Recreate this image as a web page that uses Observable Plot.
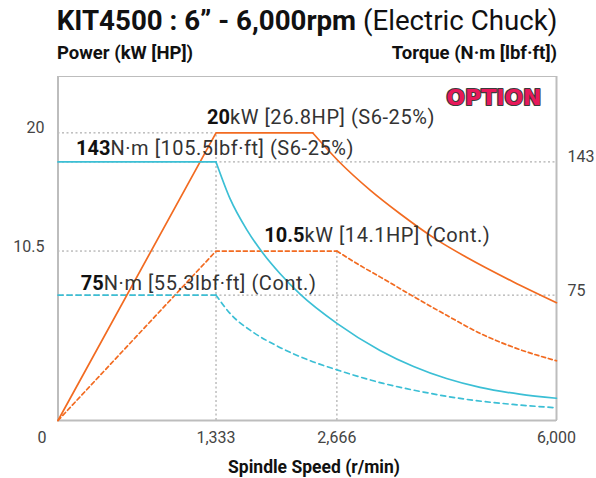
<!DOCTYPE html>
<html><head><meta charset="utf-8">
<script src="https://cdn.jsdelivr.net/npm/d3@7"></script>
<script src="https://cdn.jsdelivr.net/npm/@observablehq/plot@0.6"></script>
<style>
body{margin:0;background:#fff;font-family:Roboto,"Noto Sans",sans-serif;}
#wrap{width:596px;height:478px;overflow:hidden;}
#title{height:38px;line-height:38px;font-size:27.7px;color:#111;white-space:nowrap;text-align:center;padding-left:18px;padding-top:2px;box-sizing:border-box;}
#title b{font-weight:700}
#axes{height:26px;position:relative;font-size:18.5px;font-weight:700;color:#111;}
#axes .l{position:absolute;left:57px;bottom:0px}
#axes .r{position:absolute;right:39px;bottom:0px}
svg{display:block}
</style></head><body><div id="wrap">
<div id="title"><b>KIT4500 : 6” - 6,000rpm</b> (Electric Chuck)</div>
<div id="axes"><span class="l">Power (kW [HP])</span><span class="r">Torque (N·m [lbf·ft])</span></div>
<div id="chart"></div>
</div>
<script>
// ---- data ----
const speedTicks = [1333, 2666, 6000];
const powerTicks = [10.5, 20];
const torqueTicks = [75, 143];

const powerS6Rpm = [0, 1333, 2400, 2715, 3170, 3625, 4155, 4640, 5340, 6000];
const powerS6Kw  = [0, 20, 20, 17.6, 15.4, 13.5, 11.5, 10.1, 8.6, 7.3];
const powerContRpm = [0, 1333, 2666, 3020, 3320, 3780, 4340, 4840, 5440, 6000];
const powerContKw  = [0, 10.5, 10.5, 9.6, 8.9, 7.8, 6.5, 5.4, 4.4, 3.7];
const torqueS6Rpm = [0, 1333, 1490, 1675, 1855, 2040, 2260, 2666, 3320, 3830, 4330, 4840, 5440, 6000];
const torqueS6Nm  = [143, 143, 124, 108.2, 96.1, 85.9, 75.5, 58.1, 41.9, 32.3, 25.1, 19.8, 15.75, 13.3];
const torqueContRpm = [0, 1333, 1490, 1745, 2005, 2370, 2666, 3370, 3980, 4585, 5340, 6000];
const torqueContNm  = [75, 75, 63.9, 52.7, 44.6, 35.8, 30.3, 22.2, 17.0, 12.9, 9.6, 7.6];

const labelBold = ["20", "143", "10.5", "75"];
const labelRest = ["kW [26.8HP] (S6-25%)", "N·m [105.5lbf·ft] (S6-25%)", "kW [14.1HP] (Cont.)", "N·m [55.3lbf·ft] (Cont.)"];

// ---- layout (schematic, piecewise axes) ----
const W = 596, H = 414, mt = 12, mb = 58, ml = 57, mr = 40;
const x0 = ml + 0.5, x1 = W - mr, yB = H - mb, yT = mt;
const xDomain = [0, 1333, 2666, 6000];
const xRange = [0, 0.317, 0.5595, 1].map(f => x0 + (x1 - x0) * f);
const yDomain = [0, 10.5, 20, 24.5];
const yRange = [0, 0.4926, 0.8361, 1].map(f => yB - (yB - yT) * f);
const yPix = d3.scaleLinear(yDomain, yRange);
const tPix = d3.scaleLinear([0, 75, 143], [0, 0.3645, 0.7517].map(f => yB - (yB - yT) * f));
const tY = t => yPix.invert(tPix(t));

const ORANGE = "#f26b21", CYAN = "#3bbfd5";
function series(rpm, vals, conv, cornerIdx) {
  const pts = rpm.map((r, i) => ({rpm: r, v: conv(vals[i])}));
  return {lin: pts.slice(0, cornerIdx + 1), cur: pts.slice(cornerIdx)};
}
const id = d => d;
const pS6 = series(powerS6Rpm, powerS6Kw, id, 2);
const pC = series(powerContRpm, powerContKw, id, 2);
const tS6 = series(torqueS6Rpm, torqueS6Nm, tY, 1);
const tC = series(torqueContRpm, torqueContNm, tY, 1);

function lineMarks(s, color, dash) {
  const o = {x: "rpm", y: "v", stroke: color, strokeWidth: 1.7, strokeDasharray: dash};
  return [Plot.line(s.lin, {...o, curve: "linear"}), Plot.line(s.cur, {...o, curve: "monotone-x"})];
}
const grid = {stroke: "#9a9a9a", strokeDasharray: "2,2.5", strokeWidth: 1};
const tickFmt = d3.format(",");
const REST_FILL = "#333333";

function annot(i, xv, yv, dx, dy) {
  const base = {x: xv, y: yv, dy, dx, lineAnchor: "bottom", fontSize: 20, fontFamily: "Roboto, sans-serif", text: d => d};
  return [
    Plot.text([labelBold[i]], {...base, textAnchor: "end", fontWeight: 700, fill: "#111"}),
    Plot.text([labelRest[i]], {...base, textAnchor: "start", fill: REST_FILL})
  ];
}

const chart = Plot.plot({
  width: W, height: H, marginTop: mt, marginBottom: mb, marginLeft: ml, marginRight: mr,
  style: {fontFamily: "Roboto, sans-serif", fontSize: "16px", color: "#444", background: "#fff", overflow: "visible"},
  x: {type: "linear", domain: xDomain, range: xRange},
  y: {type: "linear", domain: yDomain, range: yRange},
  marks: [
    Plot.ruleY(powerTicks, {...grid, x1: xDomain[0], x2: speedTicks[0]}),
    Plot.ruleY(torqueTicks.map(tY), {...grid, x1: xDomain[0], x2: speedTicks[2]}),
    Plot.ruleX([speedTicks[0]], {...grid, y1: 0, y2: powerTicks[1]}),
    Plot.ruleX([speedTicks[1]], {...grid, y1: 0, y2: powerTicks[0]}),
    Plot.frame({stroke: "#bdbdbd", strokeWidth: 1}),
    Plot.ruleX([0, 6000], {stroke: "#bdbdbd", strokeWidth: 2}),
    Plot.ruleY([0], {stroke: "#bdbdbd", strokeWidth: 2}),
    ...lineMarks(pC, ORANGE, "4,3"),
    ...lineMarks(tC, CYAN, "5,4"),
    ...lineMarks(pS6, ORANGE, null),
    ...lineMarks(tS6, CYAN, null),
    Plot.axisY(powerTicks, {anchor: "left", tickSize: 0, tickPadding: 13, dy: -4.6, fontSize: 16, label: null, tickFormat: d => String(d)}),
    Plot.axisY(torqueTicks.map(tY), {anchor: "right", tickSize: 0, tickPadding: 11, dy: -4.6, fontSize: 16, label: null,
      tickFormat: d => String(torqueTicks.find(t => Math.abs(tY(t) - d) < 1e-9))}),
    Plot.axisX(speedTicks, {tickSize: 0, tickPadding: 11, fontSize: 16, tickFormat: tickFmt, label: null}),
    Plot.text([0], {x: d => d, y: 0, text: d => String(d), dx: -16, dy: 11, lineAnchor: "top", fontSize: 16, fill: "#444"}),
    ...annot(0, speedTicks[0], powerTicks[1], 14, -9),
    ...annot(1, 0, tY(torqueTicks[1]), 52.5, -7.3),
    ...annot(2, speedTicks[1], powerTicks[0], -32.4, -8.6),
    ...annot(3, 0, tY(torqueTicks[0]), 45.8, -5),
    Plot.text(["OPTION"], {text: d => d, frameAnchor: "top-right", dx: -15, dy: 13, lineAnchor: "top", fontSize: 22,
      fontWeight: 900, fontFamily: "DejaVu Sans, sans-serif", fill: "#e8185a", stroke: "#3b3b3b", strokeWidth: 2.2}),
    Plot.text(["Spindle Speed (r/min)"], {text: d => d, frameAnchor: "bottom", dx: 7, dy: 52.5, lineAnchor: "bottom",
      fontSize: 17.5, fontWeight: 700, fill: "#111"})
  ]
});
// widen the regular (non-bold) part of the annotations a little, like the reference's typeface
chart.querySelectorAll(`g[fill="${REST_FILL}"]`).forEach(g => g.style.letterSpacing = "0.55px");
document.getElementById("chart").append(chart);
</script>
</body></html>
